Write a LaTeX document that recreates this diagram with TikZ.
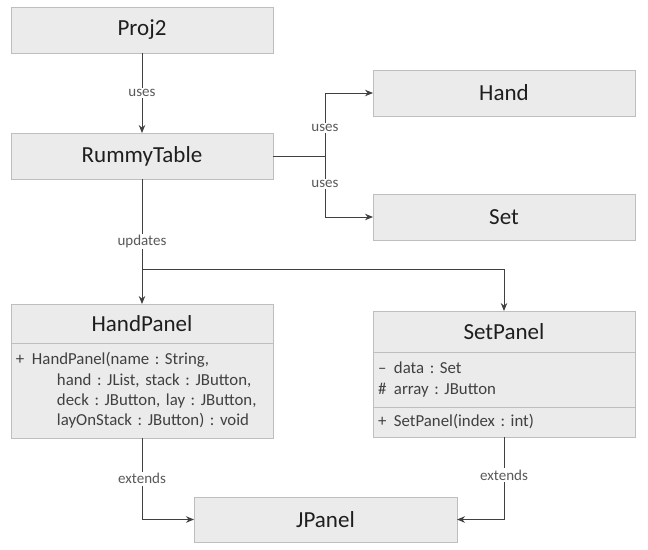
\documentclass[tikz,border=0pt]{standalone}
\usepackage{fontspec}
\setmainfont{Carlito}
\usetikzlibrary{positioning,arrows.meta}
\definecolor{boxfill}{HTML}{EBEBEB}
\definecolor{boxline}{HTML}{BEBEBE}
\definecolor{linecol}{HTML}{404040}
\definecolor{titletext}{HTML}{1E1E1E}
\definecolor{membertext}{HTML}{404040}
\definecolor{labeltext}{HTML}{595959}
\newcommand{\mk}[1]{\makebox[16pt][l]{#1}}
\newcommand{\cont}{\hspace*{41pt}}
\frenchspacing
\begin{document}
\begin{tikzpicture}[
  x=1pt, y=-1pt, >={Stealth[length=8pt,width=6.5pt]}, line width=1pt,
  classbox/.style={draw=boxline, fill=boxfill, minimum width=262pt, minimum height=46pt,
    inner sep=0pt, outer sep=0pt, text=titletext, font=\fontsize{23}{27}\selectfont},
  compart/.style={draw=boxline, fill=boxfill, text width=252pt, inner xsep=5pt, inner ysep=0pt,
    outer sep=0pt, align=left, text=membertext, font=\fontsize{16.8}{20.3}\selectfont},
  lbl/.style={fill=white, inner sep=1.5pt, text=labeltext, font=\fontsize{15}{17}\selectfont},
  conn/.style={draw=linecol}
]
  \useasboundingbox (0,0) rectangle (648,549);

  % classes
  \node[classbox] (Proj2)      at (142,30)  {Proj2};
  \node[classbox] (RummyTable) at (142,156) {RummyTable};
  \node[classbox] (Hand)       at (504,93)  {Hand};
  \node[classbox] (Set)        at (504,217) {Set};
  \node[classbox, minimum width=263pt, minimum height=45pt] (JPanel) at (325.5,519.5) {JPanel};

  \node[classbox, minimum height=39pt] (HandPanel) at (142,323.5) {HandPanel};
  \node[compart, minimum height=95pt, below=0pt of HandPanel] (HandPanelOps) {%
    \mk{+}HandPanel(name : String,\\
    \cont hand : JList, stack : JButton,\\
    \cont deck : JButton, lay : JButton,\\
    \cont layOnStack : JButton) : void};

  \node[classbox, minimum height=41pt] (SetPanel) at (504,331.5) {SetPanel};
  \node[compart, minimum height=55pt, below=0pt of SetPanel] (SetPanelAttr) {%
    \mk{–}data : Set\\
    \mk{\#}array : JButton};
  \node[compart, minimum height=30pt, below=0pt of SetPanelAttr] (SetPanelOps) {%
    \mk{+}SetPanel(index : int)};

  % junctions
  \coordinate (useJct) at (325,156);
  \coordinate (updJct) at (142,269);

  % edges
  \draw[conn,->] (Proj2) -- node[lbl] {uses} (RummyTable);
  \draw[conn] (RummyTable.east) -- (useJct);
  \draw[conn,->] (useJct) |- node[lbl, pos=0.22] {uses} (Hand);
  \draw[conn,->] (useJct) |- node[lbl, pos=0.23] {uses} (Set);
  \draw[conn,->] (RummyTable) -- node[lbl] {updates} (HandPanel);
  \draw[conn,->] (updJct) -| (SetPanel.north);
  \draw[conn,->] (HandPanelOps.south) |- node[lbl, pos=0.25] {extends} (JPanel);
  \draw[conn,->] (SetPanelOps.south) |- node[lbl, pos=0.23] {extends} (JPanel);
\end{tikzpicture}
\end{document}
